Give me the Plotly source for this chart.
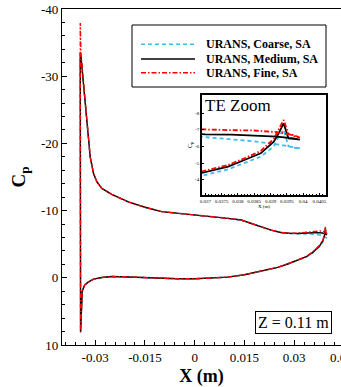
import plotly.graph_objects as go

# ---------------- data ----------------
# surface x (m): upper surface TE -> LE, then lower surface LE -> TE
x_upper = [0.0399, 0.0397, 0.0392, 0.0385, 0.0378, 0.0370, 0.0355, 0.0335, 0.0310, 0.0285,
           0.0260, 0.0230, 0.0200, 0.0170, 0.0140, 0.0100, 0.0050, 0.0000, -0.0050, -0.0100,
           -0.0150, -0.0200, -0.0250, -0.0280, -0.0295, -0.0305, -0.0315, -0.0324, -0.0332,
           -0.0339, -0.0343]
x_le = [-0.0345, -0.0344]
x_lower = [-0.0339, -0.0332, -0.0320, -0.0305, -0.0280, -0.0250, -0.0200, -0.0150, -0.0100,
           -0.0050, 0.0000, 0.0050, 0.0100, 0.0150, 0.0200, 0.0250, 0.0280, 0.0310, 0.0335,
           0.0355, 0.0369, 0.0377, 0.0382, 0.0387, 0.0391, 0.03925, 0.0394, 0.03955, 0.0397,
           0.0399]
x_surface = x_upper + x_le + x_lower

cp_medium = [
    -6.40, -6.48, -6.58, -6.66, -6.70, -6.72, -6.70, -6.64, -6.60, -6.62,
    -6.75, -7.10, -7.60, -8.10, -8.60, -8.85, -9.10, -9.30, -9.55, -9.85,
    -10.50, -11.30, -12.40, -13.30, -14.30, -15.50, -18.00, -23.00, -27.50,
    -31.50, -33.00,
    -33.50, 8.10,
    2.00, 1.10, 0.60, 0.20, -0.05, -0.20, -0.12, 0.00, 0.12,
    0.15, 0.15, 0.08, -0.10, -0.45, -0.95, -1.55, -2.05, -2.60, -3.10,
    -3.75, -4.38, -4.78, -5.18, -5.58, -6.28, -6.78, -7.38, -6.48, -6.45,
    -6.40]

cp_fine = [
    -6.52, -6.68, -6.85, -6.95, -6.97, -6.93, -6.85, -6.75, -6.65, -6.62,
    -6.75, -7.10, -7.60, -8.10, -8.60, -8.85, -9.10, -9.30, -9.55, -9.85,
    -10.50, -11.30, -12.40, -13.30, -14.30, -15.50, -18.00, -23.00, -27.50,
    -31.50, -33.50,
    -37.90, 8.10,
    2.00, 1.10, 0.60, 0.20, -0.05, -0.20, -0.12, 0.00, 0.12,
    0.15, 0.15, 0.08, -0.10, -0.45, -0.95, -1.55, -2.05, -2.62, -3.15,
    -3.82, -4.48, -4.88, -5.28, -5.72, -6.45, -7.00, -7.58, -6.75, -6.62,
    -6.52]

cp_coarse = [
    -5.88, -5.95, -6.12, -6.30, -6.36, -6.42, -6.48, -6.52, -6.55, -6.60,
    -6.75, -7.10, -7.60, -8.10, -8.60, -8.85, -9.10, -9.30, -9.55, -9.85,
    -10.50, -11.30, -12.40, -13.30, -14.30, -15.50, -18.00, -23.00, -27.50,
    -31.50, -32.80,
    -33.00, 8.00,
    2.00, 1.10, 0.60, 0.20, -0.05, -0.20, -0.12, 0.00, 0.12,
    0.15, 0.15, 0.08, -0.10, -0.45, -0.95, -1.55, -2.05, -2.58, -3.05,
    -3.68, -4.24, -4.62, -4.98, -5.38, -6.00, -6.60, -7.00, -6.00, -5.92,
    -5.88]

series_names = ["URANS, Coarse, SA", "URANS, Medium, SA", "URANS, Fine, SA"]
series_cp = [cp_coarse, cp_medium, cp_fine]
series_colors = ["#3CBDEB", "#000000", "#FF0000"]
series_dash = ["4px,3px", "solid", "5px,2px,1.5px,2px"]

x_tickvals = [-0.03, -0.015, 0, 0.015, 0.03]
x_ticktext = ["-0.03", "-0.015", "0", "0.015", "0.03"]
y_tickvals = [-40, -30, -20, -10, 0, 10]
y_ticktext = ["-40", "-30", "-20", "-10", "0", "10"]
inset_x_tickvals = [0.037, 0.0375, 0.038, 0.0385, 0.039, 0.0395, 0.04, 0.0405]
inset_x_ticktext = ["0.037", "0.0375", "0.038", "0.0385", "0.039", "0.0395", "0.04", "0.0405"]
inset_y_tickvals = [-8, -7, -6, -5, -4]
inset_y_ticktext = ["-8", "-7", "-6", "-5", "-4"]

SERIF = "Liberation Serif"

# ---------------- figure ----------------
fig = go.Figure()

for name, cp, col, dash in zip(series_names, series_cp, series_colors, series_dash):
    fig.add_trace(go.Scatter(x=x_surface, y=cp, mode="lines", name=name,
                             line=dict(color=col, width=1.4, dash=dash),
                             showlegend=False, xaxis="x", yaxis="y"))
for name, cp, col, dash in zip(series_names, series_cp, series_colors, series_dash):
    fig.add_trace(go.Scatter(x=x_surface, y=cp, mode="lines", name=name,
                             line=dict(color=col, width=1.8, dash=dash),
                             showlegend=False, xaxis="x2", yaxis="y2"))

W, H = 341, 387
L, R, T, B = 62, 0, 9, 42
pw, ph = W - L - R, H - T - B


def px2paper(px):
    return (px - L) / pw


def py2paper(py):
    return (H - B - py) / ph


fig.update_layout(
    template="none",
    width=W, height=H,
    margin=dict(l=L, r=R, t=T, b=B, pad=0),
    paper_bgcolor="white", plot_bgcolor="white",
    font=dict(family=SERIF, color="black"),
    showlegend=False,
    xaxis=dict(
        domain=[0, 1], range=[-0.04, 0.0441], automargin=False,
        tickmode="array", tickvals=x_tickvals, ticktext=x_ticktext,
        ticks="inside", ticklen=5, tickwidth=1, tickcolor="black",
        minor=dict(dtick=0.003, tick0=0, ticks="inside", ticklen=3, tickwidth=1, tickcolor="black"),
        showline=True, linecolor="black", linewidth=1.3, mirror=True,
        showgrid=False, zeroline=False,
        tickfont=dict(family=SERIF, size=13, color="black"),
        title=dict(text="<b>X (m)</b>", font=dict(family=SERIF, size=18, color="black"), standoff=6),
    ),
    yaxis=dict(
        domain=[0, 1], range=[10, -40], automargin=False,
        tickmode="array", tickvals=y_tickvals, ticktext=y_ticktext,
        ticks="inside", ticklen=5, tickwidth=1, tickcolor="black",
        minor=dict(dtick=2, tick0=0, ticks="inside", ticklen=3, tickwidth=1, tickcolor="black"),
        showline=True, linecolor="black", linewidth=1.3, mirror=False,
        showgrid=False, zeroline=False,
        tickfont=dict(family=SERIF, size=13, color="black"),
        title=dict(text="<b>C<sub>p</sub></b>", font=dict(family=SERIF, size=19, color="black"), standoff=10),
    ),
    xaxis2=dict(
        domain=[px2paper(202), px2paper(326)], anchor="y2", range=[0.0369, 0.0407], automargin=False,
        tickmode="array", tickvals=inset_x_tickvals, ticktext=inset_x_ticktext,
        ticks="inside", ticklen=2, tickwidth=0.6, tickcolor="black",
        minor=dict(dtick=0.0001, tick0=0.037, ticks="inside", ticklen=1.2, tickwidth=0.6, tickcolor="black"),
        showline=True, linecolor="black", linewidth=1.5, mirror=True,
        showgrid=False, zeroline=False,
        tickfont=dict(family=SERIF, size=5, color="black"),
        title=dict(text="X (m)", font=dict(family=SERIF, size=5, color="black"), standoff=1),
    ),
    yaxis2=dict(
        domain=[py2paper(195), py2paper(95)], anchor="x2", range=[-3.08, -9.08], automargin=False,
        tickmode="array", tickvals=inset_y_tickvals, ticktext=inset_y_ticktext,
        ticks="inside", ticklen=2, tickwidth=0.6, tickcolor="black",
        showline=True, linecolor="black", linewidth=1.5, mirror=True,
        showgrid=False, zeroline=False,
        tickfont=dict(family=SERIF, size=5, color="black"),
        title=dict(text="C<sub>p</sub>", font=dict(family=SERIF, size=6, color="black"), standoff=2),
    ),
)

# legend box (drawn to match the original's long line samples)
shapes = [dict(type="rect", xref="paper", yref="paper",
               x0=px2paper(132), x1=px2paper(326), y0=py2paper(87), y1=py2paper(25),
               line=dict(color="black", width=1), fillcolor="white", layer="above")]
annotations = []
row_y = [44.3, 59.0, 72.7]
for name, col, dash, ry in zip(series_names, series_colors, series_dash, row_y):
    shapes.append(dict(type="line", xref="paper", yref="paper",
                       x0=px2paper(141), x1=px2paper(195), y0=py2paper(ry), y1=py2paper(ry),
                       line=dict(color=col, width=1.6, dash=dash), layer="above"))
    annotations.append(dict(text="<b>" + name + "</b>", xref="paper", yref="paper",
                            x=px2paper(204), y=py2paper(ry), xanchor="left", yanchor="middle",
                            showarrow=False, font=dict(family=SERIF, size=12, color="black")))

annotations.append(dict(text="TE Zoom", xref="paper", yref="paper",
                        x=px2paper(203), y=py2paper(106), xanchor="left", yanchor="middle",
                        showarrow=False, font=dict(family=SERIF, size=17, color="black")))
annotations.append(dict(text="Z = 0.11 m", xref="paper", yref="paper",
                        x=px2paper(293.5), y=py2paper(322), xanchor="center", yanchor="middle",
                        showarrow=False, bordercolor="black", borderwidth=1, borderpad=2,
                        bgcolor="white", font=dict(family=SERIF, size=16, color="black")))
# last x tick label, clipped at the right edge as in the original
annotations.append(dict(text="0.045", xref="paper", yref="paper",
                        x=px2paper(344), y=0, xanchor="center", yanchor="top", yshift=-3,
                        showarrow=False, font=dict(family=SERIF, size=13, color="black")))

fig.update_layout(shapes=shapes, annotations=annotations)

fig.write_html("out.html", config={"displayModeBar": False},
               post_script="document.body.style.margin='0px';document.body.style.overflow='hidden';")
